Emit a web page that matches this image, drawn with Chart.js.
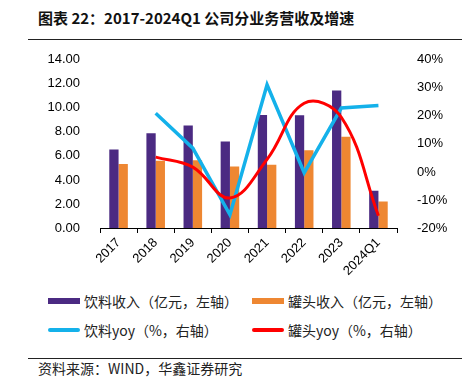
<!DOCTYPE html>
<html>
<head>
<meta charset="utf-8">
<script src="https://cdn.jsdelivr.net/npm/chart.js@4/dist/chart.umd.min.js"></script>
<style>
  body { margin: 0; width: 476px; height: 380px; background: #fff; position: relative; overflow: hidden;
         font-family: "Noto Sans CJK SC", sans-serif; }
  #title { position: absolute; left: 38px; top: 7px; font-size: 15px; font-weight: bold; color: #111; white-space: nowrap; }
  .rule { position: absolute; left: 28px; width: 434px; height: 1px; background: #222; }
  #wrap { position: absolute; left: 0; top: 40px; width: 476px; height: 245px; }
  .item { position: absolute; font-size: 14px; color: #222; white-space: nowrap; line-height: 18px; }
  .sw { position: absolute; left: 0; width: 32px; }
  .item span { position: absolute; left: 36px; top: 0; }
  #source { position: absolute; left: 38px; top: 358px; font-size: 14px; color: #222; white-space: nowrap; }
</style>
</head>
<body>
<div id="title">图表 22：2017-2024Q1 公司分业务营收及增速</div>
<div class="rule" style="top:39px"></div>
<div id="wrap"><canvas id="chart"></canvas></div>
<div id="legend"></div>
<div class="rule" style="top:358px"></div>
<div id="source">资料来源：WIND，华鑫证券研究</div>
<script>
const years = ['2017', '2018', '2019', '2020', '2021', '2022', '2023', '2024Q1'];
const drinkRev = [6.54, 7.88, 8.54, 7.19, 9.41, 9.38, 11.44, 3.10];
const cannedRev = [5.32, 5.59, 5.64, 5.11, 5.27, 6.48, 7.59, 2.21];
const drinkYoy = [null, 20.9, 8.5, -15.3, 31.1, -0.3, 22.8, 23.7];
const cannedYoy = [null, 5.3, 1.7, -9.3, 4.5, 24.5, 19.5, -15.6];
const leftTicks = [0, 14, 2];
const rightTicks = [-20, 40, 10];

const tickFont = { family: 'Liberation Sans', size: 13 };

const datasets = [
    { type: 'bar', label: '饮料收入（亿元，左轴）', data: drinkRev, backgroundColor: '#4b2a82', yAxisID: 'y', order: 2,
      categoryPercentage: 0.5, barPercentage: 1.0 },
    { type: 'bar', label: '罐头收入（亿元，左轴）', data: cannedRev, backgroundColor: '#ee8732', yAxisID: 'y', order: 2,
      categoryPercentage: 0.5, barPercentage: 1.0 },
    { type: 'line', label: '饮料yoy（%，右轴）', data: drinkYoy, borderColor: '#14b1ea', backgroundColor: '#14b1ea',
      borderWidth: 3.5, pointRadius: 0, tension: 0, yAxisID: 'y1', order: 1 },
    { type: 'line', label: '罐头yoy（%，右轴）', data: cannedYoy, borderColor: '#ff0000', backgroundColor: '#ff0000',
      borderWidth: 3, pointRadius: 0, tension: 0.4, yAxisID: 'y1', order: 0 }
];

new Chart(document.getElementById('chart'), {
    data: { labels: years, datasets: datasets },
    options: {
        responsive: true, maintainAspectRatio: false, animation: false,
        layout: { padding: { top: 11, left: 0, right: 0, bottom: 0 } },
        plugins: { legend: { display: false }, tooltip: { enabled: false } },
        scales: {
            x: {
                offset: true,
                grid: { display: true, drawOnChartArea: false, drawTicks: true, tickLength: 5, color: '#000', offset: true },
                border: { display: true, color: '#000', width: 1 },
                ticks: { minRotation: 45, maxRotation: 45, font: tickFont, color: '#000', padding: 2 },
                afterFit: s => { s.height = 57; }
            },
            y: {
                position: 'left', min: leftTicks[0], max: leftTicks[1],
                grid: { display: false }, border: { display: false },
                ticks: { stepSize: leftTicks[2], font: tickFont, color: '#000', padding: 12, callback: v => v.toFixed(2) },
                afterFit: s => { s.width = 100; }
            },
            y1: {
                position: 'right', min: rightTicks[0], max: rightTicks[1],
                grid: { display: false }, border: { display: false },
                ticks: { stepSize: rightTicks[2], font: tickFont, color: '#000', padding: 12, callback: v => v + '%' },
                afterFit: s => { s.width = 79; }
            }
        }
    }
});

// legend in two aligned columns
const legend = document.getElementById('legend');
datasets.forEach((d, i) => {
    const item = document.createElement('div');
    item.className = 'item';
    item.style.left = (48 + (i % 2) * 204) + 'px';
    item.style.top = (292 + Math.floor(i / 2) * 29) + 'px';
    const sw = document.createElement('div');
    sw.className = 'sw';
    if (d.type === 'bar') {
        sw.style.top = '6px'; sw.style.height = '6px'; sw.style.background = d.backgroundColor;
    } else {
        sw.style.top = '7px'; sw.style.height = '4px'; sw.style.borderRadius = '2px'; sw.style.background = d.borderColor;
    }
    const txt = document.createElement('span');
    txt.textContent = d.label;
    item.appendChild(sw);
    item.appendChild(txt);
    legend.appendChild(item);
});
</script>
</body>
</html>
